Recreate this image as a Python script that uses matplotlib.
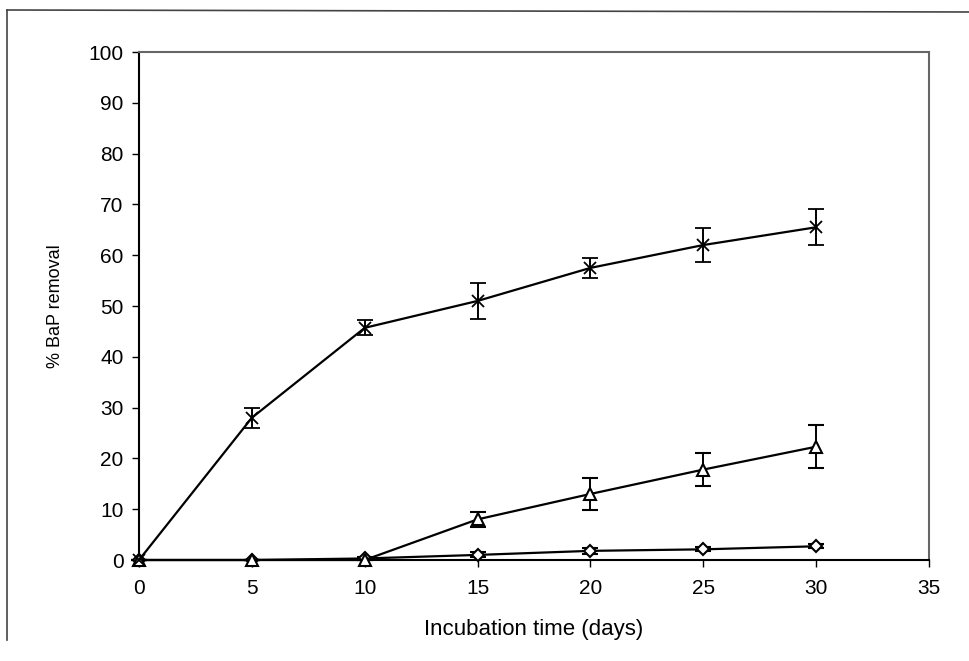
import matplotlib
matplotlib.use("Agg")
import matplotlib.pyplot as plt
from matplotlib.lines import Line2D

plt.rcParams['font.family'] = ['Liberation Sans', 'DejaVu Sans']

days = [0, 5, 10, 15, 20, 25, 30]

# BaP removal (%) for each treatment, with error bars
x_series = [0, 28.0, 45.7, 51.0, 57.5, 62.0, 65.5]
x_err = [0, 2.0, 1.5, 3.5, 2.0, 3.3, 3.5]

tri_series = [0, 0, 0, 8.0, 13.0, 17.8, 22.3]
tri_err = [0, 0, 0, 1.5, 3.1, 3.3, 4.2]

dia_series = [0, 0, 0.3, 1.0, 1.8, 2.1, 2.7]
dia_err = [0, 0, 0.2, 0.5, 0.6, 0.4, 0.4]

fig = plt.figure(figsize=(9.7, 6.61), dpi=100)
ax = fig.add_axes([139 / 970, 1 - 560 / 661, 790 / 970, 508 / 661])

common = dict(color='black', lw=1.6, capsize=6, elinewidth=1.4, capthick=1.4,
              clip_on=False, zorder=3)

ax.errorbar(days, dia_series, yerr=dia_err, marker='D', ms=6, mfc='white',
            mew=1.5, **common)
ax.errorbar(days, tri_series, yerr=tri_err, marker='^', ms=9, mfc='white',
            mew=1.5, **common)
ax.errorbar(days, x_series, yerr=x_err, marker='x', ms=9, mew=1.3, **common)

ax.set_xlim(0, 35)
ax.set_ylim(0, 100)
ax.set_xticks(range(0, 36, 5))
ax.set_yticks(range(0, 101, 10))
ax.tick_params(direction='out', length=5, width=1, labelsize=15, pad=9)
ax.tick_params(axis='y', pad=6)

for side in ['top', 'right']:
    ax.spines[side].set_color('#666666')
    ax.spines[side].set_linewidth(1.5)
for side in ['left', 'bottom']:
    ax.spines[side].set_color('black')
    ax.spines[side].set_linewidth(1.5)

ax.set_xlabel('Incubation time (days)', fontsize=16, labelpad=15)
ax.set_ylabel('% BaP removal', fontsize=13, labelpad=18)

# outer frame lines from the scanned page
fig.add_artist(Line2D([7 / 970, 7 / 970], [1 - 10 / 661, 1 - 640 / 661],
                      color='#444444', lw=1.2))
fig.add_artist(Line2D([7 / 970, 1.0], [1 - 10 / 661, 1 - 12 / 661],
                      color='#444444', lw=1.2))

fig.savefig('out.png', dpi=100)
